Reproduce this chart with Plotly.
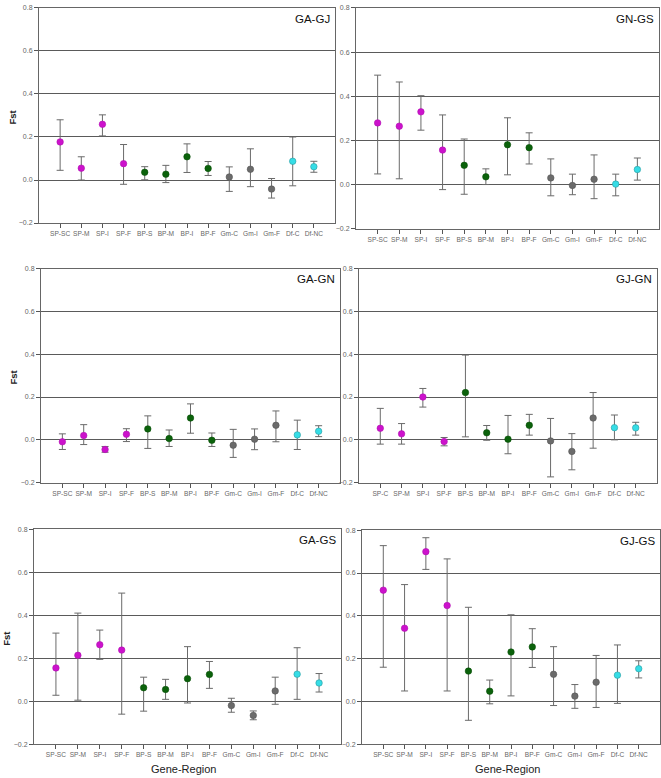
import plotly.graph_objects as go

W, H = 661, 778

categories = ["SP-SC", "SP-M", "SP-I", "SP-F", "BP-S", "BP-M", "BP-I", "BP-F",
              "Gm-C", "Gm-I", "Gm-F", "Df-C", "Df-NC"]
categories_gj_gn = ["SP-C", "SP-M", "SP-I", "SP-F", "BP-S", "BP-M", "BP-I", "BP-F",
                    "Gm-C", "Gm-I", "Gm-F", "Df-C", "Df-NC"]
y_ticks = [-0.2, 0.0, 0.2, 0.4, 0.6, 0.8]

# GA-GJ
fst_ga_gj = [0.177, 0.055, 0.259, 0.076, 0.036, 0.027, 0.108, 0.054, 0.014, 0.050, -0.042, 0.087, 0.062]
hi_ga_gj = [0.280, 0.108, 0.303, 0.165, 0.062, 0.068, 0.168, 0.086, 0.061, 0.145, 0.007, 0.200, 0.087]
lo_ga_gj = [0.045, 0.000, 0.205, -0.020, 0.001, -0.012, 0.035, 0.021, -0.053, -0.031, -0.084, -0.027, 0.036]
# GN-GS
fst_gn_gs = [0.280, 0.265, 0.330, 0.157, 0.088, 0.036, 0.181, 0.168, 0.031, -0.003, 0.025, 0.003, 0.069]
hi_gn_gs = [0.496, 0.465, 0.403, 0.316, 0.207, 0.072, 0.303, 0.235, 0.117, 0.048, 0.135, 0.048, 0.121]
lo_gn_gs = [0.049, 0.027, 0.247, -0.022, -0.043, 0.001, 0.045, 0.094, -0.050, -0.045, -0.063, -0.050, 0.021]
# GA-GN
fst_ga_gn = [-0.009, 0.020, -0.045, 0.026, 0.051, 0.006, 0.102, -0.002, -0.025, 0.003, 0.068, 0.023, 0.040]
hi_ga_gn = [0.028, 0.071, -0.031, 0.052, 0.112, 0.046, 0.168, 0.032, 0.049, 0.051, 0.135, 0.092, 0.066]
lo_ga_gn = [-0.045, -0.022, -0.058, -0.008, -0.040, -0.031, 0.031, -0.031, -0.082, -0.046, -0.009, -0.045, 0.015]
# GJ-GN
fst_gj_gn = [0.054, 0.028, 0.200, -0.008, 0.221, 0.033, 0.003, 0.068, -0.005, -0.054, 0.102, 0.057, 0.056]
hi_gj_gn = [0.147, 0.076, 0.240, 0.011, 0.396, 0.067, 0.114, 0.119, 0.100, 0.029, 0.221, 0.116, 0.082]
lo_gj_gn = [-0.020, -0.020, 0.153, -0.028, 0.014, -0.002, -0.065, 0.022, -0.173, -0.140, -0.039, 0.000, 0.022]
# GA-GS
fst_ga_gs = [0.155, 0.214, 0.263, 0.238, 0.063, 0.055, 0.105, 0.125, -0.020, -0.066, 0.048, 0.126, 0.085]
hi_ga_gs = [0.317, 0.410, 0.331, 0.503, 0.112, 0.102, 0.254, 0.185, 0.014, -0.045, 0.112, 0.249, 0.129]
lo_ga_gs = [0.028, 0.005, 0.195, -0.060, -0.046, 0.009, -0.008, 0.060, -0.051, -0.086, -0.014, 0.009, 0.043]
# GJ-GS
fst_gj_gs = [0.520, 0.342, 0.700, 0.448, 0.142, 0.048, 0.231, 0.255, 0.127, 0.025, 0.090, 0.123, 0.153]
hi_gj_gs = [0.728, 0.546, 0.765, 0.666, 0.440, 0.100, 0.405, 0.340, 0.256, 0.079, 0.215, 0.264, 0.190]
lo_gj_gs = [0.160, 0.049, 0.617, 0.049, -0.088, -0.011, 0.026, 0.159, -0.019, -0.032, -0.028, -0.009, 0.110]

group_colors = {"SP": "#CC12CC", "BP": "#0B620B", "Gm": "#6B6B6B", "Df": "#36DDE6"}
group_edges = {"SP": "#B010B0", "BP": "#084F08", "Gm": "#555555", "Df": "#2A9AA0"}

panels = [
    # title, cats, val, hi, lo, left px, right px, top px, bottom px, fst label, gene label
    ("GA-GJ", categories, fst_ga_gj, hi_ga_gj, lo_ga_gj, 39, 335, 4, 221, True, False),
    ("GN-GS", categories, fst_gn_gs, hi_gn_gs, lo_gn_gs, 356, 659, 4, 227, False, False),
    ("GA-GN", categories, fst_ga_gn, hi_ga_gn, lo_ga_gn, 41, 340, 267, 483, True, False),
    ("GJ-GN", categories_gj_gn, fst_gj_gn, hi_gj_gn, lo_gj_gn, 359, 657, 267, 483, False, False),
    ("GA-GS", categories, fst_ga_gs, hi_ga_gs, lo_ga_gs, 34, 341, 530, 747, True, True),
    ("GJ-GS", categories, fst_gj_gs, hi_gj_gs, lo_gj_gs, 362, 660, 531, 747, False, True),
]

fig = go.Figure()
annotations = []
layout_axes = {}
font_family = "Liberation Sans, Arial, sans-serif"

for i, (title, cats, val, hi, lo, xl, xr, yt, yb, fst, gene) in enumerate(panels, start=1):
    xs = list(range(1, len(cats) + 1))
    up = [h - v for h, v in zip(hi, val)]
    dn = [v - l for v, l in zip(val, lo)]
    cols = [group_colors[c.split("-")[0]] for c in cats]
    edges = [group_edges[c.split("-")[0]] for c in cats]
    xa = "x" if i == 1 else f"x{i}"
    ya = "y" if i == 1 else f"y{i}"
    fig.add_trace(go.Scatter(
        x=xs, y=val, mode="markers", xaxis=xa, yaxis=ya, showlegend=False,
        hoverinfo="skip",
        marker=dict(size=6.5, color=cols, line=dict(width=0.6, color=edges)),
        error_y=dict(type="data", symmetric=False, array=up, arrayminus=dn,
                     color="#6A6A6A", thickness=1, width=3.5),
    ))
    xkey = "xaxis" if i == 1 else f"xaxis{i}"
    ykey = "yaxis" if i == 1 else f"yaxis{i}"
    layout_axes[xkey] = dict(
        domain=[xl / W, xr / W], anchor=ya, range=[0, 14],
        tickmode="array", tickvals=xs, ticktext=cats, tickangle=0,
        ticks="outside", ticklen=4, tickcolor="#555", tickwidth=1,
        showgrid=False, zeroline=False,
        showline=True, linecolor="#666", linewidth=1, mirror=True,
        tickfont=dict(size=6.6, color="#666", family=font_family),
    )
    layout_axes[ykey] = dict(
        domain=[1 - yb / H, 1 - yt / H], anchor=xa, range=[-0.2, 0.8],
        tickmode="array", tickvals=y_ticks, tickformat=".1f",
        ticks="outside", ticklen=4, tickcolor="#555", tickwidth=1,
        showgrid=True, gridcolor="#5A5A5A", gridwidth=1, zeroline=False,
        showline=True, linecolor="#666", linewidth=1, mirror=True,
        tickfont=dict(size=7, color="#666", family=font_family),
    )
    annotations.append(dict(
        text=title, xref="paper", yref="paper",
        x=(xr - 3) / W, y=1 - (yt + 11) / H, xanchor="right", yanchor="middle",
        showarrow=False, font=dict(size=11.5, color="#111", family=font_family),
    ))
    if fst:
        annotations.append(dict(
            text="<b>Fst</b>", xref="paper", yref="paper",
            x=(xl - 27) / W, y=1 - ((yt + yb) / 2 + 2) / H, xanchor="center", yanchor="middle",
            textangle=-90, showarrow=False,
            font=dict(size=9.5, color="#222", family=font_family),
        ))
    if gene:
        annotations.append(dict(
            text="Gene-Region", xref="paper", yref="paper",
            x=((xl + xr) / 2 - 4) / W, y=1 - 772 / H, xanchor="center", yanchor="middle",
            showarrow=False, font=dict(size=11, color="#222", family=font_family),
        ))

fig.update_layout(
    width=W, height=H, margin=dict(l=0, r=0, t=0, b=0),
    paper_bgcolor="white", plot_bgcolor="white", hovermode=False,
    annotations=annotations, **layout_axes,
)

fig.write_html(
    "out.html",
    config={"displayModeBar": False, "staticPlot": True},
    post_script="document.body.style.margin='0';document.body.style.overflow='hidden';",
)
